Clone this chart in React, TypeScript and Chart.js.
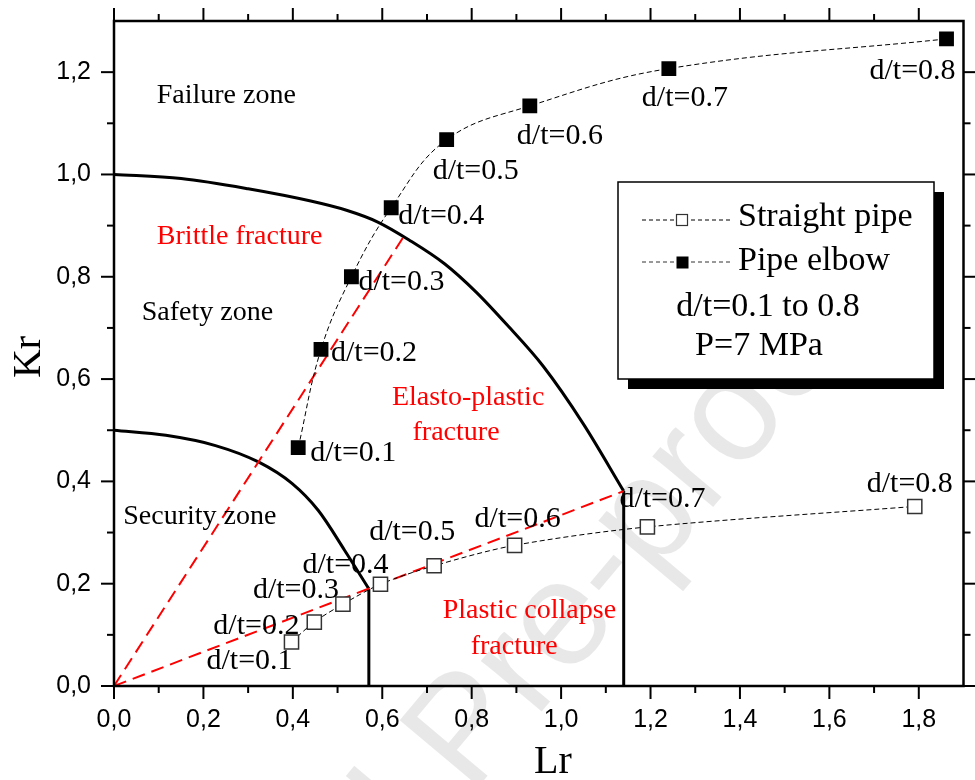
import React, { useEffect, useRef } from 'react';
import { Chart, registerables } from 'chart.js';

Chart.register(...registerables);

// ---------------- data ----------------
const dtLabels = ['d/t=0.1', 'd/t=0.2', 'd/t=0.3', 'd/t=0.4', 'd/t=0.5', 'd/t=0.6', 'd/t=0.7', 'd/t=0.8'];

const straightLr = [0.397, 0.448, 0.512, 0.596, 0.716, 0.896, 1.193, 1.791];
const straightKr = [0.086, 0.125, 0.160, 0.199, 0.235, 0.275, 0.311, 0.351];

const elbowLr = [0.412, 0.463, 0.531, 0.620, 0.744, 0.930, 1.241, 1.862];
const elbowKr = [0.466, 0.658, 0.800, 0.935, 1.068, 1.134, 1.207, 1.265];

// failure assessment curves
const outerLr = [0, 0.15, 0.30, 0.44, 0.52, 0.59, 0.66, 0.74, 0.81, 0.88, 0.96, 1.05, 1.14];
const outerKr = [1.0, 0.992, 0.972, 0.948, 0.930, 0.907, 0.872, 0.825, 0.770, 0.705, 0.625, 0.512, 0.381];
const innerLr = [0, 0.116, 0.227, 0.323, 0.398, 0.457, 0.516, 0.570];
const innerKr = [0.5, 0.490, 0.470, 0.438, 0.396, 0.343, 0.265, 0.190];
const outerCutLr = [1.14, 1.14];
const outerCutKr = [0.381, 0];
const innerCutLr = [0.570, 0.570];
const innerCutKr = [0.190, 0];

const brittleLineLr = [0, 0.646];
const brittleLineKr = [0, 0.876];
const collapseLineLr = [0, 1.14];
const collapseLineKr = [0, 0.381];

const xMajorTicks = [0, 0.2, 0.4, 0.6, 0.8, 1.0, 1.2, 1.4, 1.6, 1.8];
const xMinorTicks = [0.1, 0.3, 0.5, 0.7, 0.9, 1.1, 1.3, 1.5, 1.7];
const yMajorTicks = [0, 0.2, 0.4, 0.6, 0.8, 1.0, 1.2];
const yMinorTicks = [0.1, 0.3, 0.5, 0.7, 0.9, 1.1];

const zoneNames = ['Failure zone', 'Brittle fracture', 'Safety zone', 'Elasto-plastic', 'fracture', 'Security zone', 'Plastic collapse', 'fracture'];
const zoneLr = [0.251, 0.281, 0.209, 0.792, 0.765, 0.192, 0.929, 0.895];
const zoneKr = [1.139, 0.865, 0.715, 0.549, 0.480, 0.317, 0.132, 0.063];
const zoneRed = [false, true, false, true, true, false, true, true];

const legendNames = ['Straight pipe', 'Pipe elbow'];
const legendNotes = ['d/t=0.1 to 0.8', 'P=7 MPa'];

// ---------------- styling helpers ----------------
const SERIF = '"Liberation Serif", "Times New Roman", serif';
const SANS = '"Liberation Sans", Arial, sans-serif';

// label offsets (px) from each marker: [dx to left edge, dy to baseline]
const elbowLabelOffset = [[12, 13], [10, 12], [7, 13], [7, 16], [-14, 39], [-13, 38], [-27, 37], [-77, 40]];
const straightLabelOffset = [[-85, 27], [-101, 12], [-90, -6], [-78, -11], [-65, -26], [-40, -18], [-28, -20], [-48, -14]];

const pts = (xs: number[], ys: number[]) => xs.map((v, i) => ({ x: v, y: ys[i] }));
const fmt = (v: number) => v.toFixed(1).replace('.', ',');

const noPad = (s: any) => {
  s.paddingTop = 0;
  s.paddingBottom = 0;
  s.paddingLeft = 0;
  s.paddingRight = 0;
};

const decorPlugin = {
  id: 'decor',
  beforeDatasetsDraw(chart: any) {
    const ctx = chart.ctx;
    ctx.save();
    ctx.translate(640, 530);
    ctx.rotate((-50 * Math.PI) / 180);
    ctx.font = `150px ${SANS}`;
    ctx.fillStyle = 'rgba(0,0,0,0.09)';
    ctx.textBaseline = 'middle';
    const w = ctx.measureText('Pre-proof').width;
    ctx.textAlign = 'right';
    ctx.fillText('Journal Pre-proof', w / 2, 0);
    ctx.restore();
  },
  afterDraw(chart: any) {
    const { ctx, chartArea: a, scales } = chart;
    const x = scales.x;
    const y = scales.y;
    ctx.save();
    // frame
    ctx.strokeStyle = '#000';
    ctx.lineWidth = 2.5;
    ctx.strokeRect(a.left, a.top, a.right - a.left, a.bottom - a.top);
    // ticks
    ctx.lineWidth = 2;
    const tick = (x1: number, y1: number, x2: number, y2: number) => {
      ctx.beginPath();
      ctx.moveTo(x1, y1);
      ctx.lineTo(x2, y2);
      ctx.stroke();
    };
    const drawX = (vals: number[], len: number) => {
      vals.forEach((v) => {
        const px = x.getPixelForValue(v);
        tick(px, a.bottom, px, a.bottom + len);
        tick(px, a.top, px, a.top - len);
      });
    };
    const drawY = (vals: number[], len: number) => {
      vals.forEach((v) => {
        const py = y.getPixelForValue(v);
        tick(a.left, py, a.left - len, py);
        tick(a.right, py, a.right + len, py);
      });
    };
    drawX(xMajorTicks, 13);
    drawX(xMinorTicks, 7);
    drawY(yMajorTicks, 13);
    drawY(yMinorTicks, 7);

    // zone labels
    ctx.textAlign = 'center';
    ctx.textBaseline = 'alphabetic';
    ctx.font = `28px ${SERIF}`;
    zoneNames.forEach((t, i) => {
      ctx.fillStyle = zoneRed[i] ? '#ff0000' : '#000';
      ctx.fillText(t, x.getPixelForValue(zoneLr[i]), y.getPixelForValue(zoneKr[i]));
    });

    // d/t labels
    ctx.textAlign = 'left';
    ctx.fillStyle = '#000';
    ctx.font = `30px ${SERIF}`;
    dtLabels.forEach((t, i) => {
      const ex = x.getPixelForValue(elbowLr[i]);
      const ey = y.getPixelForValue(elbowKr[i]);
      ctx.fillText(t, ex + elbowLabelOffset[i][0], ey + elbowLabelOffset[i][1]);
      const sx = x.getPixelForValue(straightLr[i]);
      const sy = y.getPixelForValue(straightKr[i]);
      ctx.fillText(t, sx + straightLabelOffset[i][0], sy + straightLabelOffset[i][1]);
    });

    // axis titles
    ctx.font = `40px ${SERIF}`;
    ctx.textAlign = 'center';
    ctx.fillText('Lr', 553, 773);
    ctx.save();
    ctx.translate(40, 357);
    ctx.rotate(-Math.PI / 2);
    ctx.fillText('Kr', 0, 0);
    ctx.restore();

    // legend
    const L = 618, T = 182, W = 316, H = 197;
    ctx.fillStyle = '#000';
    ctx.fillRect(L + 10, T + 10, W, H);
    ctx.fillStyle = '#fff';
    ctx.fillRect(L, T, W, H);
    ctx.lineWidth = 1.5;
    ctx.strokeStyle = '#000';
    ctx.strokeRect(L, T, W, H);
    const rows = [220, 262];
    rows.forEach((ry, i) => {
      ctx.save();
      ctx.lineWidth = 1;
      ctx.setLineDash([4, 3]);
      ctx.beginPath();
      ctx.moveTo(642, ry);
      ctx.lineTo(732, ry);
      ctx.stroke();
      ctx.restore();
      const s = 11;
      if (i === 0) {
        ctx.fillStyle = '#fff';
        ctx.fillRect(682 - s / 2, ry - s / 2, s, s);
        ctx.lineWidth = 1.2;
        ctx.strokeStyle = '#333';
        ctx.strokeRect(682 - s / 2, ry - s / 2, s, s);
      } else {
        ctx.fillStyle = '#000';
        ctx.fillRect(682 - s / 2, ry - s / 2, s + 1, s + 1);
      }
      ctx.fillStyle = '#000';
      ctx.font = `34px ${SERIF}`;
      ctx.textAlign = 'left';
      ctx.fillText(legendNames[i], 738, ry + 6 + (i === 0 ? 0 : 2));
    });
    ctx.textAlign = 'center';
    ctx.fillText(legendNotes[0], 768, 316);
    ctx.fillText(legendNotes[1], 759, 355);
    ctx.restore();
  },
};

export default function App() {
  const ref = useRef<HTMLCanvasElement | null>(null);
  useEffect(() => {
    if (!ref.current) return;
    const lineDs = (data: any, color: string, width: number, dash: number[] = [], extra: any = {}) => ({
      data,
      showLine: true,
      borderColor: color,
      borderWidth: width,
      borderDash: dash,
      pointRadius: 0,
      pointHoverRadius: 0,
      fill: false,
      ...extra,
    });
    const chart = new Chart(ref.current, {
      type: 'scatter',
      data: {
        datasets: [
          {
            label: 'Pipe elbow',
            data: pts(elbowLr, elbowKr),
            showLine: true,
            borderColor: '#000',
            borderWidth: 1,
            borderDash: [5, 3],
            tension: 0.4,
            pointStyle: 'rect',
            pointRadius: 10.5,
            pointHoverRadius: 10.5,
            pointBackgroundColor: '#000',
            pointBorderColor: '#000',
            pointBorderWidth: 0,
          },
          {
            label: 'Straight pipe',
            data: pts(straightLr, straightKr),
            showLine: true,
            borderColor: '#000',
            borderWidth: 1,
            borderDash: [5, 3],
            tension: 0.3,
            pointStyle: 'rect',
            pointRadius: 10,
            pointHoverRadius: 10,
            pointBackgroundColor: '#fff',
            pointBorderColor: '#333',
            pointBorderWidth: 1.5,
          },
          lineDs(pts(brittleLineLr, brittleLineKr), '#ff0000', 2, [13, 7]),
          lineDs(pts(collapseLineLr, collapseLineKr), '#ff0000', 2, [13, 7]),
          lineDs(pts(outerLr, outerKr), '#000', 3, [], { cubicInterpolationMode: 'monotone' }),
          lineDs(pts(outerCutLr, outerCutKr), '#000', 3),
          lineDs(pts(innerLr, innerKr), '#000', 3, [], { cubicInterpolationMode: 'monotone' }),
          lineDs(pts(innerCutLr, innerCutKr), '#000', 3),
        ],
      },
      options: {
        responsive: false,
        animation: false,
        events: [],
        layout: { padding: 0 },
        plugins: { legend: { display: false }, tooltip: { enabled: false } },
        scales: {
          x: {
            type: 'linear',
            position: 'bottom',
            min: 0,
            max: 1.9,
            grid: { display: false, drawTicks: false },
            border: { display: false },
            afterBuildTicks: (s: any) => {
              s.ticks = xMajorTicks.map((v) => ({ value: v }));
            },
            ticks: {
              padding: 19,
              color: '#000',
              font: { family: SANS, size: 25 },
              callback: (v: any) => fmt(Number(v)),
              maxRotation: 0,
              autoSkip: false,
            },
            afterFit: (s: any) => {
              s.height = 94;
              noPad(s);
            },
          },
          y: {
            type: 'linear',
            position: 'left',
            min: 0,
            max: 1.3,
            grid: { display: false, drawTicks: false },
            border: { display: false },
            afterBuildTicks: (s: any) => {
              s.ticks = yMajorTicks.map((v) => ({ value: v }));
            },
            ticks: {
              padding: 23,
              color: '#000',
              font: { family: SANS, size: 25 },
              callback: (v: any) => fmt(Number(v)),
              autoSkip: false,
            },
            afterFit: (s: any) => {
              s.width = 114;
              noPad(s);
            },
          },
          x2: {
            type: 'linear',
            position: 'top',
            min: 0,
            max: 1.9,
            grid: { display: false, drawTicks: false },
            border: { display: false },
            ticks: { display: false },
            afterFit: (s: any) => {
              s.height = 21;
              noPad(s);
            },
          },
          y2: {
            type: 'linear',
            position: 'right',
            min: 0,
            max: 1.3,
            grid: { display: false, drawTicks: false },
            border: { display: false },
            ticks: { display: false },
            afterFit: (s: any) => {
              s.width = 5;
              noPad(s);
            },
          },
        },
      } as any,
      plugins: [decorPlugin],
    });
    return () => chart.destroy();
  }, []);
  return (
    <div style={{ position: 'absolute', left: 0, top: 0, width: 975, height: 780, background: '#fff' }}>
      <canvas ref={ref} width={975} height={780} style={{ display: 'block' }} />
    </div>
  );
}
